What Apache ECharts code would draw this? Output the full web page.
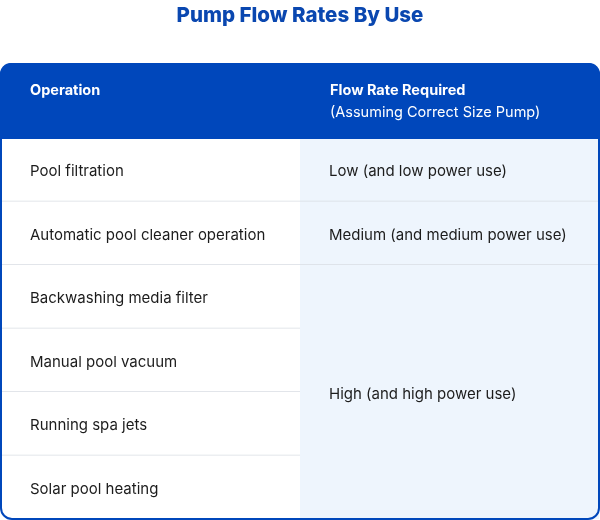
<!DOCTYPE html>
<html><head><meta charset="utf-8">
<script src="https://cdn.jsdelivr.net/npm/echarts@6/dist/echarts.min.js"></script>
<style>html,body{margin:0;padding:0;background:#fff}#c{width:600px;height:520px}</style>
</head><body><div id="c"></div>
<script>
const titleText = "Pump Flow Rates By Use";
const headers = ["Operation", "Flow Rate Required"];
const subHeader = "(Assuming Correct Size Pump)";
const operations = ["Pool filtration", "Automatic pool cleaner operation", "Backwashing media filter", "Manual pool vacuum", "Running spa jets", "Solar pool heating"];
const flowRates = ["Low (and low power use)", "Medium (and medium power use)", "High (and high power use)"];
const flowRowSpans = [1, 1, 4];

const FONT = "Inter, 'Noto Sans', sans-serif";
const BLUE = "#0047BB";
const cells = [];
operations.forEach((t, i) => cells.push({ value: [0, i, i + 1], label: t, bg: "#ffffff" }));
let r = 0;
flowRates.forEach((t, i) => { cells.push({ value: [1, r, r + flowRowSpans[i]], label: t, bg: "#EEF5FD" }); r += flowRowSpans[i]; });
const nRows = operations.length;

const chart = echarts.init(document.getElementById('c'), null, { renderer: 'canvas' });
chart.setOption({
  animation: false,
  title: { text: titleText, left: 'center', top: 0, textStyle: { color: "#0A47B0", fontFamily: FONT, fontWeight: 800, fontSize: 20.5 } },
  grid: { left: 1, right: 1, top: 138, bottom: 1 },
  xAxis: { type: 'value', min: 0, max: 2, show: false },
  yAxis: { type: 'value', min: 0, max: nRows, inverse: true, show: false },
  graphic: [
    { type: 'rect', shape: { x: 0, y: 63, width: 600, height: 76, r: [11, 11, 0, 0] }, style: { fill: BLUE }, z: 10 },
    { type: 'text', x: 30, y: 91, style: { text: headers[0], fill: '#fff', font: "bold 14.5px " + FONT, textVerticalAlign: 'middle' }, z: 11 },
    { type: 'text', x: 330, y: 91, style: { text: headers[1], fill: '#fff', font: "bold 14.5px " + FONT, textVerticalAlign: 'middle' }, z: 11 },
    { type: 'text', x: 330, y: 113, style: { text: subHeader, fill: '#fff', font: "14.5px " + FONT, textVerticalAlign: 'middle' }, z: 11 },
    { type: 'rect', shape: { x: 1, y: 64, width: 598, height: 455, r: 11 }, style: { fill: null, stroke: BLUE, lineWidth: 2 }, z: 20 }
  ],
  series: [{
    type: 'custom',
    clip: false,
    encode: { x: 0, y: [1, 2] },
    data: cells,
    renderItem: function (params, api) {
      const c = api.value(0), r0 = api.value(1), r1 = api.value(2);
      const p0 = api.coord([c, r0]);
      const p1 = api.coord([c + 1, r1]);
      const item = cells[params.dataIndex];
      const children = [
        { type: 'rect', shape: { x: p0[0], y: p0[1], width: p1[0] - p0[0], height: p1[1] - p0[1] }, style: { fill: item.bg } },
        { type: 'text', x: p0[0] + 29, y: (p0[1] + p1[1]) / 2 + 2, style: { text: item.label, fill: '#1c1c1c', font: "15px " + FONT, textVerticalAlign: 'middle' } }
      ];
      if (r1 < nRows) {
        children.push({ type: 'line', shape: { x1: p0[0], y1: p1[1], x2: p1[0], y2: p1[1] }, style: { stroke: '#D8DDE3', lineWidth: 1.5 } });
      }
      return { type: 'group', children: children };
    }
  }]
});
</script></body></html>
